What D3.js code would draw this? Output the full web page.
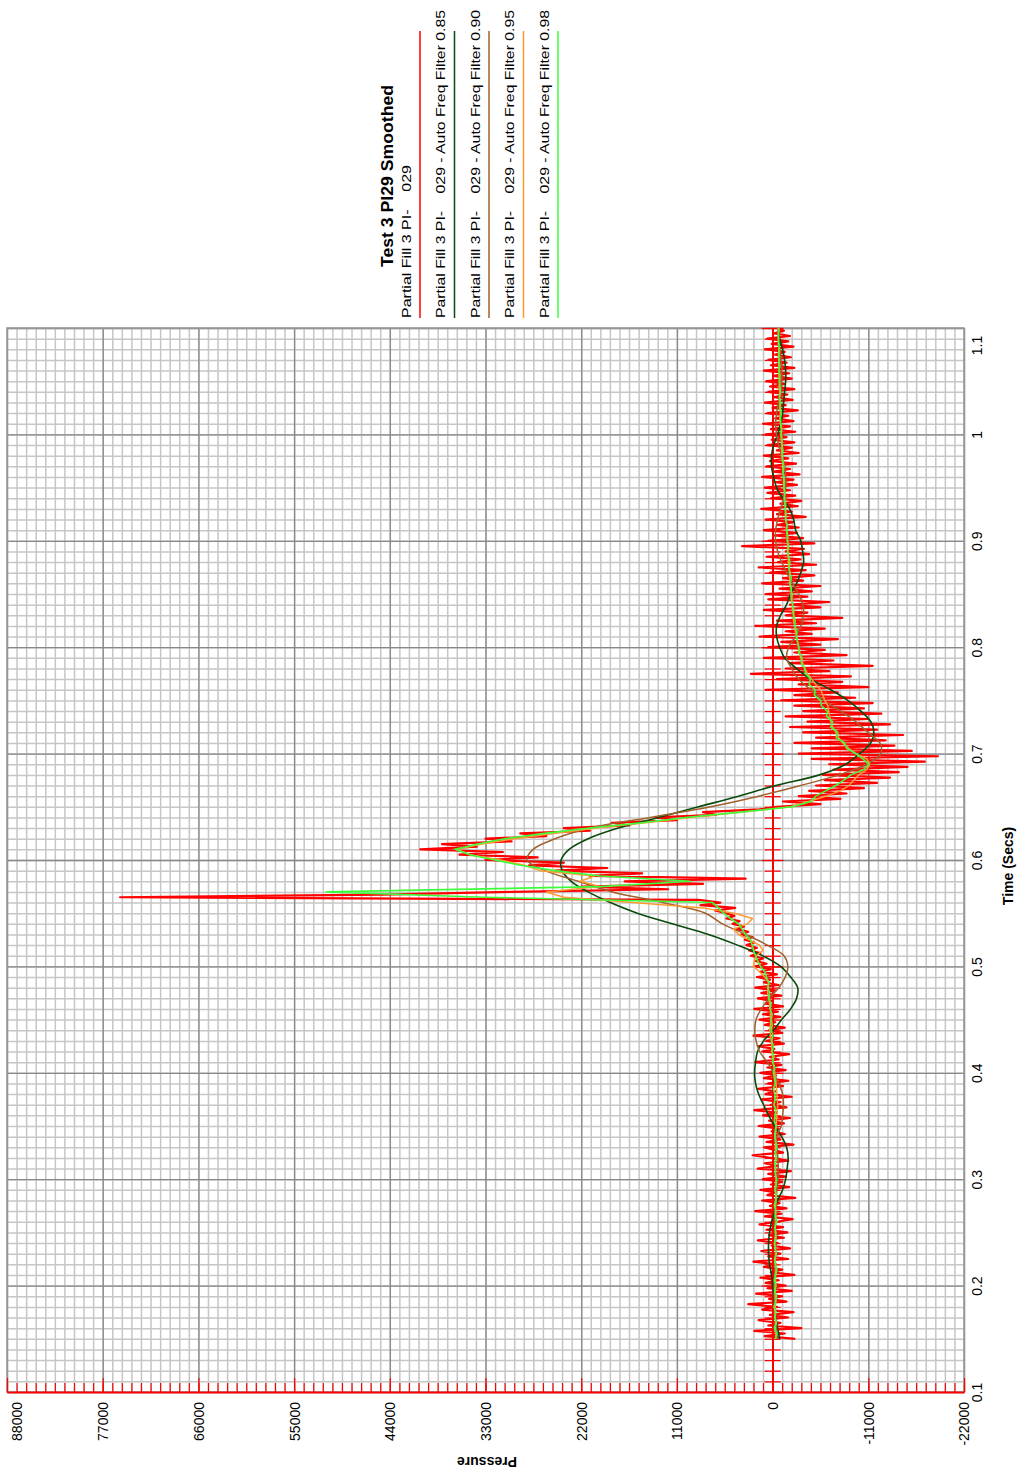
<!doctype html>
<html>
<head>
<script src="https://cdnjs.cloudflare.com/ajax/libs/d3/7.8.5/d3.min.js"></script>
<style>
body { margin: 0; background: #fff; }
text { font-family: "Liberation Sans", Arial, sans-serif; }
</style>
</head>
<body>
<svg id="chart" width="1024" height="1483"></svg>
<script>
// raw trace, one sample every 0.0025 s from 0.15 s
var rawStart = 0.15, rawStep = 0.0025;
var rawPressure = [
 -2600, 900, -1400, 2100, -3300, 500, -900, 1600, -1800, 300, -2400, 1200, -500, 2800, -1600, 400, -1100, 1900, -2200, 600,
 -1500, 800, -700, 1400, -2500, 200, -1100, 1000, -400, 2200, -1800, 500, -900, 1300, -2000, 100, -600, 1700, -1300, 400,
 -1700, 700, -1200, 1500, -500, -2300, 900, -1000, 2000, -1600, 300, -800, 1200, -2600, 600, -300, 1400, -1900, 200, -1100,
 1100, -1500, 500, -2100, 1700, -600, 900, -1800, 300, 2300, -1200, -200, 1000, -2400, 700, -900, 1500, -1400, 100, -700,
 1600, -1300, 400, -2000, 1100, -500, 2100, -1600, 200, -900, 1300, -2200, 800, -300, 1700, -1200, 500, -1800, 1000, -400,
 1400, -1500, 600, -1000, 2000, -700, 300, -1900, 1200, -200, 1600, -1300, 700, -800, 2200, -1100, 400, -1400, 900, -300,
 1500, -900, 1100, -600, 2100, -1200, 800, 100, 1700, -1000, 1300, -300, 2000, -700, 1000, 300, 1800, -500, 1400, 200,
 2000, 700, 1900, 1100, 2500, 1400, 2700, 1800, 3000, 2100, 3200, 2300, 3600, 2800, 4100, 3300, 4600, 3800, 5300, 4400,
 5400, 6600, 4300, 8300, 6000, 8500, 75000, 45000, 30000, 12000, 22000, 8000, 17000, 3100, 21000, 15000, 25000, 19000, 28000, 24000,
 33000, 27000, 36000, 31000, 40500, 34000, 38000, 30000, 33000, 26000, 29000, 21000, 24000, 16500, 18500, 11000, 13500, 6500, 8000, 1500,
 -500, -5500, -1200, -7800, -3000, -8500, -4200, -10500, -5000, -12000, -6000, -13500, -5800, -14500, -7000, -15500, -6500, -17500, -4500, -19000,
 -3000, -16000, -4500, -14000, -2500, -13000, -5000, -15000, -3500, -12000, -2000, -13500, -4000, -11000, -1500, -12500, -3500, -10500, -2500, -11500,
 -1000, -9500, -2500, -7500, 800, -11000, -3000, -8000, -500, -9000, 2500, -6500, -1500, -11500, -2000, -7000, 1000, -8500, -2500, -6000,
 500, -5500, -1000, -7500, 1500, -4500, -1500, -6000, 2000, -5000, -500, -8000, -1500, -4000, 1000, -5500, -2000, -6500, 500, -4000,
 800, -4500, -800, -5500, 1200, -3500, -1200, -4800, 300, -3800, 1600, -5000, -600, -3200, 700, -4200, -1500, -3600, 3500, -4800,
 500, -3500, -200, -2800, 1000, -3000, -600, -2400, 800, -3800, -500, -2200, 1300, -2900, -900, -3300, 200, -2600, 600, -2000,
 900, -2800, -300, -2400, 1200, -3100, -100, -2000, 700, -2700, 300, -1800, 1000, -3000, -500, -2200, 600, -2500, 100, -1600,
 800, -2600, 200, -2000, 1100, -2400, -300, -1800, 600, -2900, 0, -1500, 900, -2300, -200, -1700, 500, -2500, 300, -1400,
 700, -2200, -100, -1900, 1000, -2500, 200, -1600, 500, -2100, -300, -1400, 900, -2400, 100, -1800, 600, -2000, -200, -1300,
 -600
];

// heavy filters, one sample every 0.01 s from 0.15 s
var coarseStart = 0.15, coarseStep = 0.01;
var filter085 = [
 -810, -580, -350, -230, -120, 0, 120, 350, 460, 460,
 350, 120, -230, -580, -1150, -1500, -1670, -1790, -1610, -1040,
 -230, 460, 1040, 1610, 1960, 2070, 1960, 1730, 1040, -120,
 -1040, -2070, -2760, -2880, -2070, -920, 1150, 4030, 7370, 11520,
 15550, 18660, 21200, 23150, 24190, 24310, 23390, 21200, 17740, 13130,
 8520, 3920, -350, -5400, -8410, -10020, -11290, -11640, -11290, -10140,
 -8640, -6680, -4380, -2760, -1380, -810, -460, -460, -920, -1610,
 -2070, -2760, -3230, -3570, -3460, -3230, -2650, -2420, -1960, -1150,
 -460, -120, 120, 120, -120, -580, -920, -1150, -1270, -1380,
 -1500, -1500, -1380, -1150, -810, -580
];
var filter090 = [
 -500, -450, -350, -250, -200, -200, -250, -300, -350, -350,
 -300, -250, -300, -400, -500, -600, -650, -600, -500, -500,
 -1000, -1150, -1250, -1150, -700, -100, 600, 1500, 1900, 2050,
 1900, 1300, 400, -700, -1450, -1750, -1300, 600, 3100, 5760,
 7720, 12670, 18430, 22350, 26150, 28220, 27530, 24990, 20970, 14050,
 7140, 1610, -3230, -7600, -10830, -12440, -12330, -10940, -9560, -7830,
 -5880, -4380, -2990, -2190, -1610, -1840, -2650, -3230, -3570, -3460,
 -3000, -2300, -1610, -1040, -580, -350, -350, -580, -920, -1270,
 -1500, -1500, -1380, -1040, -690, -460, -350, -460, -690, -920,
 -1040, -1040, -920, -810, -690, -580
];

// light filters, one sample every 0.005 s from 0.15 s
var fineStart = 0.15, fineStep = 0.005;
var filter095 = [
 -350, -400, -300, -350, -300, -250, -300, -350, -300, -250,
 -300, -350, -300, -400, -350, -300, -350, -300, -250, -300,
 -350, -300, -400, -350, -300, -350, -400, -350, -300, -350,
 -400, -350, -300, -350, -400, -350, -300, -350, -300, -350,
 -400, -450, -500, -550, -600, -550, -500, -450, -400, -300,
 -250, -150, -50, 0, 50, 100, 150, 250, 300, 250,
 200, 250, 230, 350, 450, 580, 520, 460, 900, 1500,
 2200, 2100, 1900, 1100, 1500, 2700, 3900, 4500, 2900, 2300,
 4400, 8000, 16000, 24000, 26000, 19800, 22100, 20500, 26700, 28500,
 31300, 34800, 36200, 33400, 29600, 25200, 20200, 14600, 9450, 3460,
 -2070, -4150, -6100, -7830, -8760, -9330, -9910, -10830, -11170, -10830,
 -9560, -8760, -8060, -7600, -7260, -6910, -6680, -6570, -6450, -6340,
 -5990, -5760, -5530, -4950, -4490, -4030, -3690, -3460, -3230, -3110,
 -3000, -2850, -2800, -2600, -2580, -2400, -2420, -2280, -2300, -2150,
 -2100, -2150, -2000, -1950, -2000, -1850, -1800, -1850, -1700, -1750,
 -1700, -1650, -1600, -1650, -1500, -1450, -1500, -1400, -1350, -1400,
 -1300, -1250, -1300, -1200, -1150, -1200, -1100, -1050, -1100, -1000,
 -950, -1000, -900, -850, -900, -800, -850, -780, -820, -750,
 -780, -720, -760, -700, -740, -680, -720, -660, -700, -650,
 -680
];
var filter098 = [
 -300, -500, -200, -450, -250, -400, -150, -350, -450, -250,
 -400, -200, -350, -500, -300, -250, -450, -300, -200, -400,
 -350, -250, -500, -300, -400, -200, -350, -450, -300, -400,
 -450, -300, -350, -250, -400, -300, -500, -350, -250, -300,
 -400, -200, -300, -350, -150, -300, -250, -100, -300, -200,
 -100, -250, 0, -150, 50, -100, 100, -50, 150, 50,
 150, 50, 300, 200, 450, 350, 550, 450, 700, 900,
 1380, 1700, 1960, 2190, 2350, 2530, 3110, 3500, 3920, 4840,
 5640, 6220, 6900, 33200, 51300, 19800, 9450, 19800, 25000, 29000,
 31900, 34800, 36500, 33900, 30800, 26200, 21000, 15000, 10000, 3700,
 -2300, -4400, -4950, -6100, -7260, -8180, -8990, -10480, -11060, -10370,
 -9560, -8500, -8300, -7300, -7500, -6700, -6900, -6200, -6300, -5600,
 -5500, -4800, -4900, -4200, -4350, -3800, -3700, -3300, -3400, -3000,
 -3000, -2880, -2700, -2800, -2550, -2600, -2400, -2450, -2300, -2200,
 -2250, -2100, -2000, -2150, -1950, -1900, -2000, -1800, -1750, -1850,
 -1700, -1750, -1600, -1650, -1500, -1550, -1450, -1500, -1350, -1400,
 -1300, -1350, -1250, -1200, -1300, -1150, -1100, -1200, -1050, -1100,
 -1000, -1050, -950, -900, -1000, -850, -900, -800, -900, -850,
 -800, -850, -750, -800, -700, -750, -800, -700, -650, -700,
 -680
];

var pressureTicks = [88000, 77000, 66000, 55000, 44000, 33000, 22000, 11000, 0, -11000, -22000];
var timeTicks = [0.1, 0.2, 0.3, 0.4, 0.5, 0.6, 0.7, 0.8, 0.9, 1, 1.1];
var chartTitle = "Test 3 PI29 Smoothed";
var legendLabels = [
  "Partial Fill 3 PI-    029",
  "Partial Fill 3 PI-    029 - Auto Freq Filter 0.85",
  "Partial Fill 3 PI-    029 - Auto Freq Filter 0.90",
  "Partial Fill 3 PI-    029 - Auto Freq Filter 0.95",
  "Partial Fill 3 PI-    029 - Auto Freq Filter 0.98"
];
var legendColors = ["#ff0000", "#0a4a0a", "#a0602c", "#ff9a30", "#3cff3c"];

var svg = d3.select("#chart");
var plotL = 7, plotR = 964, plotT = 328, plotB = 1392;

// chart is drawn turned on its side: pressure runs right-to-left, time bottom-to-top
var x = d3.scaleLinear().domain([88000, -22000]).range([plotL, plotR]);
var y = d3.scaleLinear().domain([0.1, 1.1]).range([plotB, plotT]);

var minorP = d3.range(0, 101).map(i => -22000 + i * 1100);
var minorT = d3.range(0, 101).map(i => +(0.1 + i * 0.01).toFixed(2));

function styleGrid(g, color, width) {
  g.select(".domain").remove();
  g.selectAll(".tick line").attr("stroke", color).attr("stroke-width", width);
}

// minor grid
svg.append("g").attr("transform", "translate(0," + plotB + ")")
  .call(d3.axisBottom(x).tickValues(minorP).tickSize(-(plotB - plotT)).tickFormat(""))
  .call(g => styleGrid(g, "#c6c6c6", 1.5));
svg.append("g").attr("transform", "translate(" + plotL + ",0)")
  .call(d3.axisRight(y).tickValues(minorT).tickSize(plotR - plotL).tickFormat(""))
  .call(g => styleGrid(g, "#c6c6c6", 1.5));
// major grid
svg.append("g").attr("transform", "translate(0," + plotB + ")")
  .call(d3.axisBottom(x).tickValues(pressureTicks).tickSize(-(plotB - plotT)).tickFormat(""))
  .call(g => styleGrid(g, "#888", 1.3));
svg.append("g").attr("transform", "translate(" + plotL + ",0)")
  .call(d3.axisRight(y).tickValues(timeTicks).tickSize(plotR - plotL).tickFormat(""))
  .call(g => styleGrid(g, "#888", 1.3));

svg.append("rect").attr("x", plotL).attr("y", plotT)
  .attr("width", plotR - plotL).attr("height", plotB - plotT)
  .attr("fill", "none").attr("stroke", "#999").attr("stroke-width", 1.5);

// red axes
function styleRed(g) {
  g.selectAll(".tick line").attr("stroke", "#ff0000").attr("stroke-width", 1.2);
  g.select(".domain").attr("stroke", "#ff0000").attr("stroke-width", 1.5);
}
svg.append("g").attr("transform", "translate(0," + plotB + ")")
  .call(d3.axisBottom(x).tickValues(minorP).tickSize(-9).tickSizeOuter(0).tickFormat(""))
  .call(styleRed);
svg.append("g").attr("transform", "translate(0," + plotB + ")")
  .call(d3.axisBottom(x).tickValues(pressureTicks).tickSize(-14).tickSizeOuter(0).tickFormat(""))
  .call(styleRed);
svg.append("g").attr("transform", "translate(" + x(0) + ",0)")
  .call(d3.axisLeft(y).tickValues(minorT).tickSize(8).tickSizeOuter(0).tickFormat(""))
  .call(styleRed);
svg.append("g").attr("transform", "translate(" + x(0) + ",0)")
  .call(d3.axisRight(y).tickValues(minorT).tickSize(8).tickSizeOuter(0).tickFormat(""))
  .call(styleRed);
svg.append("g").attr("transform", "translate(" + x(0) + ",0)")
  .call(d3.axisLeft(y).tickValues(timeTicks).tickSize(11).tickSizeOuter(0).tickFormat(""))
  .call(styleRed);
svg.append("g").attr("transform", "translate(" + x(0) + ",0)")
  .call(d3.axisRight(y).tickValues(timeTicks).tickSize(11).tickSizeOuter(0).tickFormat(""))
  .call(styleRed);

// tick labels
svg.append("g").attr("transform", "translate(0," + (plotB + 10) + ")")
  .call(d3.axisBottom(x).tickValues(pressureTicks).tickSize(0).tickFormat(d => String(d)))
  .call(g => {
    g.select(".domain").remove();
    g.selectAll(".tick text")
      .attr("font-size", 14).attr("font-family", "Liberation Sans, Arial, sans-serif")
      .attr("fill", "#000")
      .attr("transform", "rotate(-90)")
      .attr("text-anchor", "end")
      .attr("x", 0).attr("y", d => d === 88000 ? 10 : 0)
      .attr("dy", "0.35em");
  });
svg.append("g").attr("transform", "translate(" + plotR + ",0)")
  .call(d3.axisRight(y).tickValues(timeTicks).tickSize(0).tickFormat(d => String(d)))
  .call(g => {
    g.select(".domain").remove();
    g.selectAll(".tick text")
      .attr("font-size", 14).attr("font-family", "Liberation Sans, Arial, sans-serif")
      .attr("fill", "#000")
      .attr("transform", "rotate(-90)")
      .attr("text-anchor", "middle")
      .attr("x", d => d === 1.1 ? -17 : 0).attr("y", 13)
      .attr("dy", "0.35em");
  });

// axis titles
svg.append("text").attr("transform", "translate(1013,866) rotate(-90)")
  .attr("text-anchor", "middle").attr("font-size", 14).attr("font-weight", "bold")
  .text("Time (Secs)");
svg.append("text").attr("transform", "translate(487,1457) rotate(180)")
  .attr("text-anchor", "middle").attr("font-size", 14).attr("font-weight", "bold")
  .text("Pressure");

// title + legend
svg.append("text").attr("transform", "translate(393,267) rotate(-90)")
  .attr("font-size", 16).attr("font-weight", "bold")
  .attr("textLength", 182).attr("lengthAdjust", "spacingAndGlyphs")
  .text(chartTitle);

var legendX = d3.scaleLinear().domain([0, 4]).range([406, 544]);
var legend = svg.append("g").selectAll("g").data(legendLabels).enter().append("g");
legend.append("text")
  .attr("transform", (d, i) => "translate(" + (legendX(i) + 4.5) + ",318) rotate(-90)")
  .attr("font-size", 12)
  .style("white-space", "pre")
  .attr("textLength", (d, i) => i === 0 ? 153 : 308)
  .attr("lengthAdjust", "spacingAndGlyphs")
  .text(d => d);
legend.append("line")
  .attr("x1", (d, i) => legendX(i) + 14).attr("x2", (d, i) => legendX(i) + 14)
  .attr("y1", 31).attr("y2", 318)
  .attr("stroke", (d, i) => legendColors[i]).attr("stroke-width", 1.5);

// traces
svg.append("clipPath").attr("id", "plotClip").append("rect")
  .attr("x", plotL).attr("y", plotT).attr("width", plotR - plotL).attr("height", plotB - plotT);
var plot = svg.append("g").attr("clip-path", "url(#plotClip)");

function trace(values, start, step, color, width, curve) {
  var line = d3.line()
    .x(d => x(d))
    .y((d, i) => y(start + i * step))
    .curve(curve);
  plot.append("path").datum(values)
    .attr("fill", "none").attr("stroke", color).attr("stroke-width", width)
    .attr("stroke-linejoin", "round")
    .attr("d", line);
}
trace(rawPressure, rawStart, rawStep, legendColors[0], 2.2, d3.curveLinear);
trace(filter085, coarseStart, coarseStep, legendColors[1], 1.6, d3.curveCatmullRom);
trace(filter090, coarseStart, coarseStep, legendColors[2], 1.5, d3.curveCatmullRom);
trace(filter095, fineStart, fineStep, legendColors[3], 1.5, d3.curveLinear);
trace(filter098, fineStart, fineStep, legendColors[4], 1.6, d3.curveLinear);
</script>
</body>
</html>
